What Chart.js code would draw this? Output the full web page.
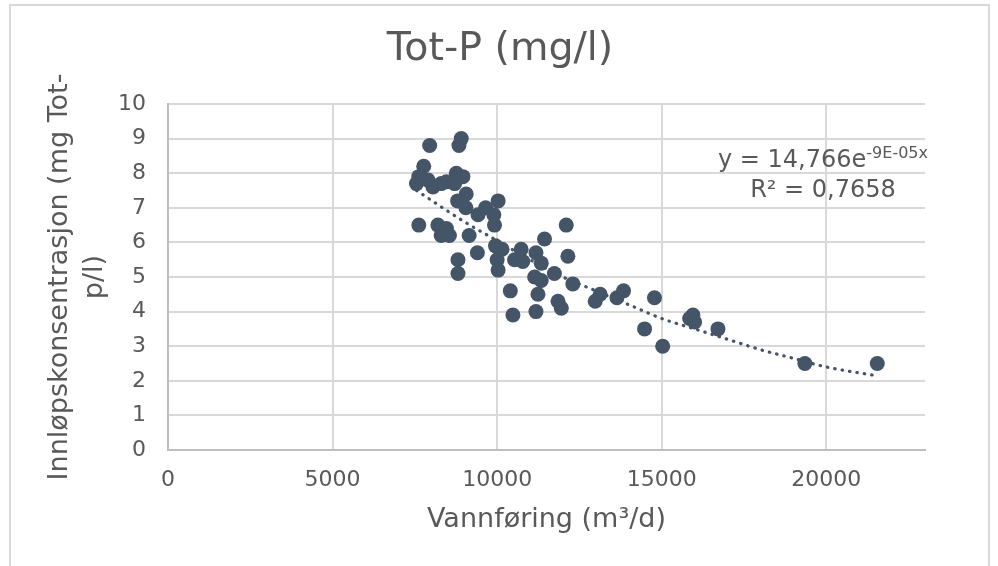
<!DOCTYPE html>
<html>
<head>
<meta charset="utf-8">
<title>Tot-P (mg/l)</title>
<script src="https://cdn.jsdelivr.net/npm/chart.js@4.4.1/dist/chart.umd.min.js"></script>
<style>
  html, body { margin: 0; padding: 0; background: #fff; }
  #wrap { width: 998px; height: 566px; }
</style>
</head>
<body>
<div id="wrap"><canvas id="scatterChart" width="998" height="566"></canvas></div>
<script>
// measured points: flow (m³/d) and inlet Tot-P (mg/l)
const flowValues = [
    7550, 7620, 7770, 7900, 7950, 8050, 8300, 8460, 8710, 8760,
    8960, 8910, 8840, 9060, 8800, 9050, 7620, 8200, 8460, 8300,
    8550, 9150, 9420, 9650, 9900, 9920, 10030, 9400, 8810, 8810,
    9950, 10150, 10000, 10030, 10730, 10530, 10780, 11180, 11340, 11440,
    12100, 12150, 11140, 11340, 11740, 12300, 10400, 11240, 11850, 11950,
    10480, 11180, 12980, 13130, 13640, 13840, 14780, 14480, 15030, 15850,
    15950, 16000, 16710, 19350, 21550
];
const totPValues = [
    7.7, 7.9, 8.2, 7.8, 8.8, 7.6, 7.7, 7.75, 7.7, 8.0,
    7.9, 9.0, 8.8, 7.4, 7.2, 7.0, 6.5, 6.5, 6.4, 6.2,
    6.2, 6.2, 6.8, 7.0, 6.8, 6.5, 7.2, 5.7, 5.5, 5.1,
    5.9, 5.8, 5.5, 5.2, 5.8, 5.5, 5.45, 5.7, 5.4, 6.1,
    6.5, 5.6, 5.0, 4.9, 5.1, 4.8, 4.6, 4.5, 4.3, 4.1,
    3.9, 4.0, 4.3, 4.5, 4.4, 4.6, 4.4, 3.5, 3.0, 3.8,
    3.9, 3.7, 3.5, 2.5, 2.5
];

// dotted exponential trendline
const trendFlow = [7550, 9000, 10000, 11000, 12000, 13000, 14000, 15000, 16000, 17000, 18000, 19000, 20000, 21500];
const trendTotP = [7.5, 6.6, 6.05, 5.5, 5.0, 4.6, 4.2, 3.8, 3.5, 3.2, 2.9, 2.65, 2.4, 2.15];

const xTicks = [0, 5000, 10000, 15000, 20000];
const yTicks = [0, 1, 2, 3, 4, 5, 6, 7, 8, 9, 10];
const xMin = 0, xMax = 23000;
const yMin = 0, yMax = 10;

const chartTitle = 'Tot-P (mg/l)';
const trendEquation = ['y = 14,766e', '-9E-05x'];
const trendR2 = 'R² = 0,7658';

const textColor = '#595959';
const markColor = '#435567';
const fontFamily = "'DejaVu Sans', Verdana, sans-serif";

// white background, light frame and the centred chart title
const chartFrame = {
    id: 'chartFrame',
    beforeDraw(chart) {
        const ctx = chart.ctx;
        ctx.save();
        ctx.fillStyle = '#ffffff';
        ctx.fillRect(0, 0, chart.width, chart.height);
        ctx.strokeStyle = '#d9d9d9';
        ctx.lineWidth = 2;
        ctx.strokeRect(10, 5, 979, 600);
        ctx.fillStyle = textColor;
        ctx.font = '39.5px ' + fontFamily;
        ctx.textAlign = 'center';
        ctx.textBaseline = 'middle';
        ctx.fillText(chartTitle, 500, 50);
        ctx.restore();
    }
};

const trendLabel = {
    id: 'trendLabel',
    afterDatasetsDraw(chart) {
        const { ctx, chartArea } = chart;
        const cx = chartArea.right - 102;
        const base1 = chartArea.top + 63;
        const base2 = chartArea.top + 93;
        ctx.save();
        ctx.fillStyle = textColor;
        ctx.textBaseline = 'alphabetic';
        ctx.textAlign = 'left';
        const mainFont = '24px ' + fontFamily;
        const supFont = '16px ' + fontFamily;
        ctx.font = mainFont;
        const w1 = ctx.measureText(trendEquation[0]).width;
        ctx.font = supFont;
        const w2 = ctx.measureText(trendEquation[1]).width;
        const x = cx - (w1 + w2) / 2;
        ctx.font = mainFont;
        ctx.fillText(trendEquation[0], x, base1);
        ctx.font = supFont;
        ctx.fillText(trendEquation[1], x + w1, base1 - 9);
        ctx.font = mainFont;
        ctx.textAlign = 'center';
        ctx.fillText(trendR2, cx, base2);
        ctx.restore();
    }
};

const ctx = document.getElementById('scatterChart').getContext('2d');
new Chart(ctx, {
    type: 'scatter',
    data: {
        datasets: [
            {
                label: 'Tot-P',
                data: flowValues.map((f, i) => ({ x: f, y: totPValues[i] })),
                backgroundColor: markColor,
                borderColor: markColor,
                borderWidth: 0,
                pointRadius: 7.5,
                pointHoverRadius: 7.5
            },
            {
                label: 'Trend',
                type: 'line',
                data: trendFlow.map((f, i) => ({ x: f, y: trendTotP[i] })),
                borderColor: markColor,
                borderWidth: 3.2,
                borderDash: [0.5, 7],
                borderCapStyle: 'round',
                cubicInterpolationMode: 'monotone',
                pointRadius: 0,
                fill: false
            }
        ]
    },
    options: {
        responsive: false,
        animation: false,
        devicePixelRatio: 1,
        layout: { padding: { left: 10, right: 73, top: 104, bottom: 0 } },
        plugins: {
            legend: { display: false },
            tooltip: { enabled: false },
            title: { display: false }
        },
        scales: {
            x: {
                type: 'linear',
                min: xMin,
                max: xMax,
                afterBuildTicks: s => { s.ticks = xTicks.map(v => ({ value: v })); },
                afterFit: s => { s.height = 116; },
                grid: {
                    color: '#d9d9d9',
                    lineWidth: 2,
                    drawTicks: false
                },
                border: { color: '#bfbfbf', width: 2 },
                ticks: {
                    padding: 17,
                    maxRotation: 0,
                    autoSkip: false,
                    color: textColor,
                    font: { family: fontFamily, size: 22 },
                    callback: v => String(v)
                },
                title: {
                    display: true,
                    text: 'Vannføring (m³/d)',
                    color: textColor,
                    font: { family: fontFamily, size: 27, lineHeight: 1.2 },
                    padding: { top: 0, bottom: 30 }
                }
            },
            y: {
                type: 'linear',
                min: yMin,
                max: yMax,
                afterBuildTicks: s => { s.ticks = yTicks.map(v => ({ value: v })); },
                afterFit: s => { s.width = 158; },
                grid: {
                    color: '#d9d9d9',
                    lineWidth: 2,
                    drawTicks: false
                },
                border: { color: '#bfbfbf', width: 2 },
                ticks: {
                    padding: 22,
                    autoSkip: false,
                    color: textColor,
                    font: { family: fontFamily, size: 22 },
                    callback: v => String(v)
                },
                title: {
                    display: true,
                    text: ['Innløpskonsentrasjon (mg Tot-', 'p/l)'],
                    color: textColor,
                    font: { family: fontFamily, size: 27, lineHeight: 1.3 },
                    padding: { top: 32.5, bottom: 0 }
                }
            }
        }
    },
    plugins: [chartFrame, trendLabel]
});
</script>
</body>
</html>
